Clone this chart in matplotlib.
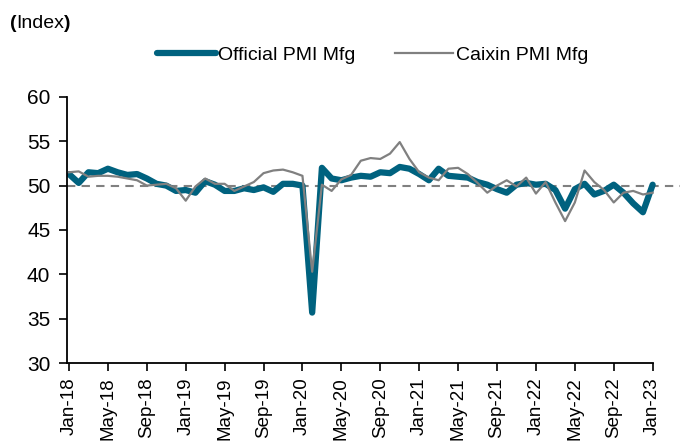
import numpy as np
import pandas as pd
import matplotlib.pyplot as plt

plt.rcParams['font.family'] = ['Liberation Sans', 'DejaVu Sans']

# monthly data, Jan-2018 .. Jan-2023
months = pd.date_range('2018-01-01', '2023-01-01', freq='MS')
official = [51.3, 50.3, 51.5, 51.4, 51.9, 51.5, 51.2, 51.3, 50.8, 50.2, 50.0, 49.4,
            49.5, 49.2, 50.5, 50.1, 49.4, 49.4, 49.7, 49.5, 49.8, 49.3, 50.2, 50.2,
            50.0, 35.7, 52.0, 50.8, 50.6, 50.9, 51.1, 51.0, 51.5, 51.4, 52.1, 51.9,
            51.3, 50.6, 51.9, 51.1, 51.0, 50.9, 50.4, 50.1, 49.6, 49.2, 50.1, 50.3,
            50.1, 50.2, 49.5, 47.4, 49.6, 50.2, 49.0, 49.4, 50.1, 49.2, 48.0, 47.0,
            50.1]
caixin = [51.5, 51.6, 51.0, 51.1, 51.1, 51.0, 50.8, 50.6, 50.0, 50.1, 50.2, 49.7,
          48.3, 49.9, 50.8, 50.2, 50.2, 49.4, 49.9, 50.4, 51.4, 51.7, 51.8, 51.5,
          51.1, 40.3, 50.1, 49.4, 50.7, 51.2, 52.8, 53.1, 53.0, 53.6, 54.9, 53.0,
          51.5, 50.9, 50.6, 51.9, 52.0, 51.3, 50.3, 49.2, 50.0, 50.6, 49.9, 50.9,
          49.1, 50.4, 48.1, 46.0, 48.1, 51.7, 50.4, 49.5, 48.1, 49.2, 49.4, 49.0,
          49.2]

x = np.arange(len(months))
labels = [m.strftime('%b-%y') for m in months]

fig = plt.figure(figsize=(6.84, 4.44), dpi=100)
ax = fig.add_axes([0.098, 0.182, 0.896, 0.6])

ax.axhline(50, color='#808080', lw=1.5, ls=(0, (4, 3)), zorder=1)
ax.plot(x, official, color='#00627F', lw=4.5, solid_capstyle='round',
        label='Official PMI Mfg', zorder=2)
ax.plot(x, caixin, color='#808080', lw=1.6, label='Caixin PMI Mfg', zorder=3)

ax.set_ylim(30, 60)
ax.set_yticks(range(30, 61, 5))
ax.set_xlim(-0.2, 62.8)
ax.set_xticks(x[::4])
ax.set_xticklabels(labels[::4], rotation=90, fontsize=13.5)
ax.tick_params(axis='y', labelsize=15, length=6, width=1.2, pad=6)
ax.tick_params(axis='x', length=6, width=1.2, pad=4)

for s in ['top', 'right']:
    ax.spines[s].set_visible(False)
ax.spines['left'].set_linewidth(1.3)
ax.spines['bottom'].set_linewidth(1.3)
ax.spines['bottom'].set_bounds(-0.2, 60)

# "(Index)" with bold brackets, pieced together
t1 = fig.text(0.014, 0.948, '(', fontsize=14, fontweight='bold', va='center')
t2 = ax.annotate('Index', xy=(1, 0.5), xycoords=t1, xytext=(0, 0),
                 textcoords='offset points', fontsize=14, va='center')
t3 = ax.annotate(')', xy=(1, 0.5), xycoords=t2, xytext=(0, 0),
                 textcoords='offset points', fontsize=14, fontweight='bold',
                 va='center')

fig.legend(loc='center', bbox_to_anchor=(0.545, 0.876), ncol=2, frameon=False,
           fontsize=14, handlelength=3.0, handletextpad=0.15, columnspacing=2.0)

fig.savefig('out.png', dpi=100)
